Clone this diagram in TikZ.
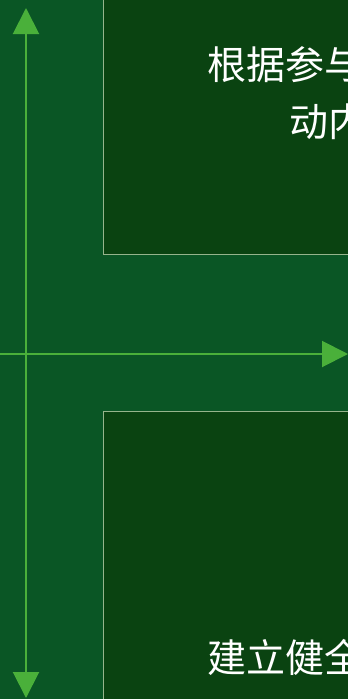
\documentclass[tikz,border=0pt]{standalone}
\usepackage{fontspec}
\usepackage{tikz}
\usetikzlibrary{arrows.meta,positioning}
\newfontfamily\cjk{Noto Sans CJK SC}
\definecolor{boardgreen}{RGB}{10,86,37}
\definecolor{panelgreen}{RGB}{10,67,17}
\definecolor{axisgreen}{RGB}{74,176,58}
\definecolor{framegray}{RGB}{150,180,140}

\begin{document}
\begin{tikzpicture}[x=1pt,y=-1pt,
    axis/.style={draw=axisgreen, line width=2pt, -{Triangle[width=26pt,length=26pt]}},
    panel/.style={fill=panelgreen, draw=framegray, line width=0.9pt},
    label/.style={anchor=west, inner sep=0pt, text=white, font=\cjk\fontsize{39}{44}\selectfont}]
    \useasboundingbox (0,0) rectangle (348,699);
    \clip (0,0) rectangle (348,699);
    \fill[boardgreen] (0,0) rectangle (348,699);
    % panels
    \draw[panel] (103,-5) rectangle (360,254);
    \draw[panel] (103,411) rectangle (360,710);
    % axes
    \coordinate (top) at (26,8);
    \coordinate (bottom) at (26,698);
    \coordinate (left) at (0,354);
    \coordinate (right) at (348,354);
    \draw[axis, {Triangle[width=26pt,length=26pt]}-{Triangle[width=26pt,length=26pt]}] (top) -- (bottom);
    \draw[axis] (left) -- (right);
    % texts
    \node[label] (upper1) at (207,65) {根据参与};
    \node[label] (upper2) at (289,122) {动内};
    \node[label] (lower1) at (207,657) {建立健全};
\end{tikzpicture}
\end{document}
